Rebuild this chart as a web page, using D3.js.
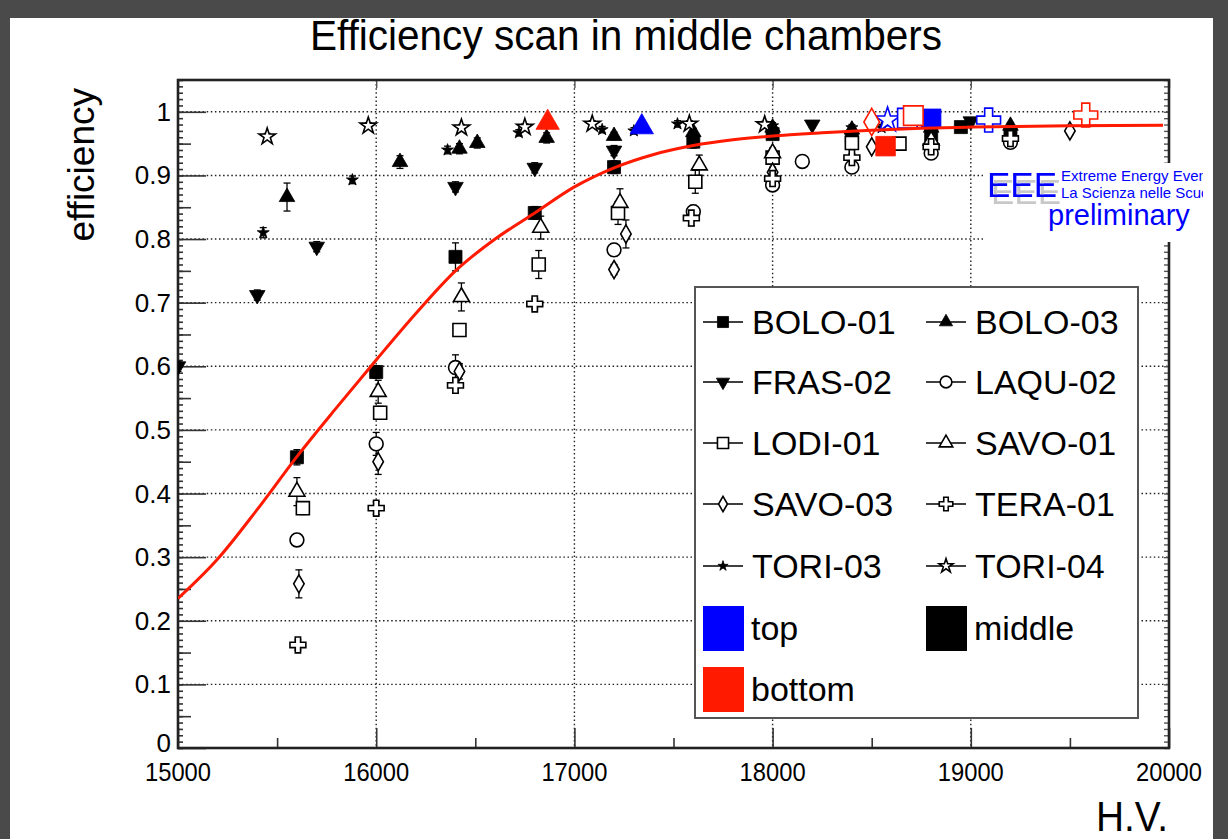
<!DOCTYPE html>
<html>
<head>
<meta charset="utf-8">
<script src="https://cdn.jsdelivr.net/npm/d3@7"></script>
<style>
  html, body { margin: 0; padding: 0; background: #fff; }
  svg { display: block; font-family: "Liberation Sans", Arial, Helvetica, sans-serif; }
</style>
</head>
<body>
<svg id="chart" width="1228" height="839"></svg>
<script>
// ---- axis ranges and ticks ----
const hvRange = [15000, 20000];
const effRange = [0, 1.05];
const hvMajorTicks = [15000, 16000, 17000, 18000, 19000, 20000];
const effMajorTicks = [0, 0.1, 0.2, 0.3, 0.4, 0.5, 0.6, 0.7, 0.8, 0.9, 1];
const effTickLabels = ["0", "0.1", "0.2", "0.3", "0.4", "0.5", "0.6", "0.7", "0.8", "0.9", "1"];

// ---- middle-chamber efficiency per station (HV in volts) ----
const bolo01HV  = [15600, 16000, 16400, 16800, 17200, 17600, 18000, 18400, 18800, 18950, 19200];
const bolo01Eff = [0.457, 0.591, 0.772, 0.841, 0.913, 0.953, 0.965, 0.960, 0.964, 0.976, 0.966];
const bolo01Err = [0.012, 0.010, 0.022, 0.010, 0.010, 0.010, 0.005, 0.005, 0.005, 0.005, 0.005];

const bolo03HV  = [15550, 16120, 16420, 16510, 16860, 17200, 17600, 18000, 18400, 18800, 19200];
const bolo03Eff = [0.866, 0.921, 0.942, 0.951, 0.959, 0.962, 0.968, 0.975, 0.972, 0.975, 0.978];
const bolo03Err = [0.022, 0.010, 0.008, 0.008, 0.008, 0.006, 0.006, 0.005, 0.005, 0.005, 0.005];

const fras02HV  = [15000, 15400, 15700, 16400, 16800, 17200, 18200, 19000];
const fras02Eff = [0.600, 0.712, 0.788, 0.882, 0.912, 0.939, 0.980, 0.985];
const fras02Err = [0.008, 0.008, 0.008, 0.008, 0.008, 0.008, 0.005, 0.005];

const laqu02HV  = [15600, 16000, 16400, 17200, 17600, 18000, 18150, 18400, 18800, 19200];
const laqu02Eff = [0.327, 0.478, 0.598, 0.783, 0.843, 0.885, 0.922, 0.913, 0.935, 0.952];
const laqu02Err = [0.010, 0.018, 0.020, 0.010, 0.010, 0.008, 0.006, 0.006, 0.006, 0.006];

const lodi01HV  = [15630, 16020, 16420, 16820, 17220, 17610, 18000, 18400, 18640];
const lodi01Eff = [0.377, 0.527, 0.657, 0.760, 0.841, 0.890, 0.928, 0.951, 0.950];
const lodi01Err = [0.010, 0.010, 0.010, 0.022, 0.018, 0.018, 0.008, 0.006, 0.006];

const savo01HV  = [15600, 16010, 16430, 16830, 17230, 17630, 18000, 18800];
const savo01Eff = [0.403, 0.560, 0.709, 0.818, 0.857, 0.916, 0.935, 0.955];
const savo01Err = [0.022, 0.018, 0.022, 0.018, 0.022, 0.016, 0.008, 0.006];

const savo03HV  = [15610, 16010, 16420, 17200, 17260, 18000, 18500, 19500];
const savo03Eff = [0.258, 0.450, 0.592, 0.752, 0.808, 0.905, 0.945, 0.970];
const savo03Err = [0.022, 0.020, 0.012, 0.008, 0.022, 0.008, 0.006, 0.006];

const tera01HV  = [15605, 16000, 16400, 16800, 17590, 18000, 18400, 18800, 19200];
const tera01Eff = [0.162, 0.377, 0.570, 0.698, 0.833, 0.895, 0.928, 0.945, 0.958];
const tera01Err = [0.008, 0.010, 0.012, 0.008, 0.012, 0.008, 0.006, 0.006, 0.006];

const tori03HV  = [15430, 15880, 16360, 16720, 17140, 17300, 17520, 18000, 18400, 18550];
const tori03Eff = [0.810, 0.893, 0.940, 0.967, 0.972, 0.970, 0.981, 0.978, 0.975, 0.975];
const tori03Err = [0.008, 0.006, 0.006, 0.005, 0.005, 0.005, 0.005, 0.005, 0.005, 0.005];

const tori04HV  = [15450, 15960, 16430, 16750, 17090, 17580, 17960];
const tori04Eff = [0.961, 0.978, 0.975, 0.976, 0.981, 0.981, 0.980];
const tori04Err = [0.005, 0.005, 0.005, 0.005, 0.005, 0.005, 0.005];

// ---- top and bottom chamber points (station id per point) ----
const topStation    = ["BOLO-03", "TORI-04", "LODI-01", "BOLO-01", "TERA-01"];
const topHV         = [17340, 18580, 18680, 18800, 19090];
const topEff        = [0.976, 0.987, 0.990, 0.989, 0.987];

const bottomStation = ["BOLO-03", "SAVO-03", "BOLO-01", "LODI-01", "TERA-01"];
const bottomHV      = [16865, 18500, 18570, 18710, 19580];
const bottomEff     = [0.983, 0.984, 0.946, 0.994, 0.995];

// ---- fitted efficiency curve, sampled along HV ----
const fitHV  = [15000, 15200, 15400, 15600, 15800, 16000, 16200, 16400, 16600, 16800, 17000,
                17200, 17400, 17600, 17800, 18000, 18250, 18500, 18750, 19000, 19500, 19970];
const fitEff = [0.235, 0.297, 0.375, 0.458, 0.535, 0.610, 0.683, 0.750, 0.800, 0.841, 0.882,
                0.912, 0.933, 0.947, 0.956, 0.962, 0.967, 0.971, 0.974, 0.976, 0.978, 0.979];

// ---- station table built from the arrays above ----
const stations = [
  { name: "BOLO-01", hv: bolo01HV, eff: bolo01Eff, err: bolo01Err },
  { name: "BOLO-03", hv: bolo03HV, eff: bolo03Eff, err: bolo03Err },
  { name: "FRAS-02", hv: fras02HV, eff: fras02Eff, err: fras02Err },
  { name: "LAQU-02", hv: laqu02HV, eff: laqu02Eff, err: laqu02Err },
  { name: "LODI-01", hv: lodi01HV, eff: lodi01Eff, err: lodi01Err },
  { name: "SAVO-01", hv: savo01HV, eff: savo01Eff, err: savo01Err },
  { name: "SAVO-03", hv: savo03HV, eff: savo03Eff, err: savo03Err },
  { name: "TERA-01", hv: tera01HV, eff: tera01Eff, err: tera01Err },
  { name: "TORI-03", hv: tori03HV, eff: tori03Eff, err: tori03Err },
  { name: "TORI-04", hv: tori04HV, eff: tori04Eff, err: tori04Err }
];

// marker style per station: shape, filled or hollow, symbol area
const markerStyle = {
  "BOLO-01": { type: d3.symbolSquare,   filled: true,  size: 170, rot: 0 },
  "BOLO-03": { type: d3.symbolTriangle, filled: true,  size: 105, rot: 0 },
  "FRAS-02": { type: d3.symbolTriangle, filled: true,  size: 105, rot: 180 },
  "LAQU-02": { type: d3.symbolCircle,   filled: false, size: 150, rot: 0 },
  "LODI-01": { type: d3.symbolSquare,   filled: false, size: 170, rot: 0 },
  "SAVO-01": { type: d3.symbolTriangle, filled: false, size: 110, rot: 0 },
  "SAVO-03": { type: d3.symbolDiamond,  filled: false, size: 95,  rot: 0 },
  "TERA-01": { type: d3.symbolCross,    filled: false, size: 140, rot: 0 },
  "TORI-03": { type: d3.symbolStar,     filled: true,  size: 45,  rot: 0 },
  "TORI-04": { type: d3.symbolStar,     filled: false, size: 85,  rot: 0 }
};

const W = 1228, H = 839;
const frame = { left: 178, right: 1169, top: 80, bottom: 748 };
const svg = d3.select("#chart");
const defs = svg.append("defs");

// screen border around the canvas
svg.append("rect").attr("width", W).attr("height", H).attr("fill", "#4a4a4a");
svg.append("rect").attr("x", 10).attr("y", 18).attr("width", 1203).attr("height", H - 18).attr("fill", "#ffffff");

const x = d3.scaleLinear().domain(hvRange).range([frame.left, frame.right]);
const y = d3.scaleLinear().domain(effRange).range([frame.bottom, frame.top]);

defs.append("clipPath").attr("id", "plotClip")
  .append("rect").attr("x", frame.left).attr("y", frame.top)
  .attr("width", frame.right - frame.left).attr("height", frame.bottom - frame.top);

// title
svg.append("text")
  .attr("x", 626).attr("y", 50)
  .attr("text-anchor", "middle")
  .attr("font-size", 42)
  .attr("textLength", 632).attr("lengthAdjust", "spacingAndGlyphs")
  .attr("fill", "#000")
  .text("Efficiency scan in middle chambers");

// dotted grid
const grid = svg.append("g").attr("stroke", "#222").attr("stroke-width", 1.4)
  .attr("stroke-dasharray", "1.5,2.6");
grid.selectAll("line.gx").data(hvMajorTicks.filter(v => v > hvRange[0] && v < hvRange[1]))
  .join("line").attr("class", "gx")
  .attr("x1", d => x(d)).attr("x2", d => x(d))
  .attr("y1", frame.top).attr("y2", frame.bottom);
grid.selectAll("line.gy").data(effMajorTicks.filter(v => v > 0))
  .join("line").attr("class", "gy")
  .attr("x1", frame.left).attr("x2", frame.right)
  .attr("y1", d => y(d)).attr("y2", d => y(d));

// axes with ticks pointing into the frame
const yMajor = d3.axisRight(y).tickValues(effMajorTicks).tickSize(28).tickFormat("");
const yMinor = d3.axisRight(y).tickValues(d3.range(0.05, 1.05, 0.1)).tickSize(13).tickFormat("");
const yFine  = d3.axisRight(y).tickValues(d3.range(0, 1.051, 0.01)).tickSize(5).tickFormat("");
[yMajor, yMinor, yFine].forEach(ax => {
  svg.append("g").attr("transform", `translate(${frame.left},0)`).call(ax)
    .call(g => g.select(".domain").remove())
    .call(g => g.selectAll("line").attr("stroke", "#333").attr("stroke-width", 1.6));
});
svg.append("g").attr("transform", `translate(${frame.right},0)`)
  .call(d3.axisLeft(y).tickValues(d3.range(0, 1.051, 0.01)).tickSize(5).tickFormat(""))
  .call(g => g.select(".domain").remove())
  .call(g => g.selectAll("line").attr("stroke", "#555").attr("stroke-width", 1.4));

const xMajor = d3.axisTop(x).tickValues(hvMajorTicks).tickSize(20).tickFormat("");
const xMinor = d3.axisTop(x).tickValues(d3.range(15500, 20000, 1000)).tickSize(10).tickFormat("");
[xMajor, xMinor].forEach(ax => {
  svg.append("g").attr("transform", `translate(0,${frame.bottom})`).call(ax)
    .call(g => g.select(".domain").remove())
    .call(g => g.selectAll("line").attr("stroke", "#333").attr("stroke-width", 1.6));
});
svg.append("g").attr("transform", `translate(0,${frame.top})`)
  .call(d3.axisBottom(x).tickValues(hvMajorTicks).tickSize(8).tickFormat(""))
  .call(g => g.select(".domain").remove())
  .call(g => g.selectAll("line").attr("stroke", "#555").attr("stroke-width", 1.4));

// frame
svg.append("rect")
  .attr("x", frame.left).attr("y", frame.top)
  .attr("width", frame.right - frame.left).attr("height", frame.bottom - frame.top)
  .attr("fill", "none").attr("stroke", "#222").attr("stroke-width", 2.6);

// tick labels (the zero label sits a little higher so it clears the first HV label)
svg.append("g").selectAll("text").data(effMajorTicks).join("text")
  .attr("x", frame.left - 7).attr("y", d => y(d) + (d === 0 ? 4 : 9))
  .attr("text-anchor", "end").attr("font-size", 26).attr("fill", "#000")
  .text((d, i) => effTickLabels[i]);
svg.append("g").selectAll("text").data(hvMajorTicks).join("text")
  .attr("x", d => x(d)).attr("y", frame.bottom + 33)
  .attr("text-anchor", "middle").attr("font-size", 26).attr("fill", "#000")
  .attr("textLength", 66).attr("lengthAdjust", "spacingAndGlyphs")
  .text(d => d);

// axis titles
svg.append("text")
  .attr("transform", "translate(94,88) rotate(-90)")
  .attr("text-anchor", "end").attr("font-size", 37).attr("fill", "#000")
  .text("efficiency");
svg.append("text")
  .attr("x", 1168).attr("y", 831)
  .attr("text-anchor", "end").attr("font-size", 42).attr("fill", "#000")
  .attr("textLength", 72).attr("lengthAdjust", "spacingAndGlyphs")
  .text("H.V.");

// ---- markers ----
const plotLayer = svg.append("g").attr("clip-path", "url(#plotClip)");

function symbolPath(name, scale) {
  const s = markerStyle[name];
  return d3.symbol().type(s.type).size(s.size * scale * scale)();
}
function drawMarker(g, name, cx, cy, color, scale) {
  const s = markerStyle[name];
  g.append("path")
    .attr("d", symbolPath(name, scale))
    .attr("transform", `translate(${cx},${cy}) rotate(${s.rot})`)
    .attr("fill", s.filled ? color : "#fff")
    .attr("stroke", color)
    .attr("stroke-width", s.filled ? 0.8 : 1.6);
}

// error bars under the markers
const errLayer = plotLayer.append("g").attr("stroke", "#000").attr("stroke-width", 1.3);
stations.forEach(st => {
  st.hv.forEach((hv, i) => {
    const cx = x(hv), lo = y(st.eff[i] - st.err[i]), hi = y(st.eff[i] + st.err[i]);
    errLayer.append("line").attr("x1", cx).attr("x2", cx).attr("y1", lo).attr("y2", hi);
    errLayer.append("line").attr("x1", cx - 3.5).attr("x2", cx + 3.5).attr("y1", hi).attr("y2", hi);
    errLayer.append("line").attr("x1", cx - 3.5).attr("x2", cx + 3.5).attr("y1", lo).attr("y2", lo);
  });
});

const markLayer = plotLayer.append("g");
stations.forEach(st => {
  st.hv.forEach((hv, i) => drawMarker(markLayer, st.name, x(hv), y(st.eff[i]), "#000", 1));
});

// fitted curve
plotLayer.append("path")
  .datum(fitHV.map((hv, i) => [hv, fitEff[i]]))
  .attr("d", d3.line().x(d => x(d[0])).y(d => y(d[1])).curve(d3.curveMonotoneX))
  .attr("fill", "none").attr("stroke", "#ff1a00").attr("stroke-width", 3);

// top (blue) and bottom (red) chambers, drawn larger
topHV.forEach((hv, i) => drawMarker(markLayer, topStation[i], x(hv), y(topEff[i]), "#0000ff", 1.5));
bottomHV.forEach((hv, i) => drawMarker(markLayer, bottomStation[i], x(hv), y(bottomEff[i]), "#ff1a00", 1.5));

// ---- EEE label (grey drop shadow behind the big letters) ----
const shadow = defs.append("filter").attr("id", "logoShadow")
  .attr("x", "-10%").attr("y", "-10%").attr("width", "130%").attr("height", "140%");
shadow.append("feDropShadow").attr("dx", 4).attr("dy", 7).attr("stdDeviation", 0.4)
  .attr("flood-color", "#c8c8c8").attr("flood-opacity", 1);

svg.append("rect").attr("x", 983).attr("y", 163).attr("width", 220).attr("height", 79).attr("fill", "#fff");
defs.append("clipPath").attr("id", "logoClip")
  .append("rect").attr("x", 983).attr("y", 150).attr("width", 220).attr("height", 100);
const logo = svg.append("g").attr("clip-path", "url(#logoClip)");
logo.append("text").attr("x", 987).attr("y", 197).attr("font-size", 35).attr("fill", "#0000ff")
  .attr("filter", "url(#logoShadow)").text("EEE");
logo.append("text").attr("x", 1061).attr("y", 181).attr("font-size", 15).attr("fill", "#0000ff").text("Extreme Energy Events");
logo.append("text").attr("x", 1061).attr("y", 198).attr("font-size", 15).attr("fill", "#0000ff").text("La Scienza nelle Scuole");
logo.append("text").attr("x", 1048).attr("y", 225).attr("font-size", 29).attr("fill", "#0000ff").text("preliminary");

// ---- legend ----
const legend = svg.append("g");
legend.append("rect").attr("x", 695).attr("y", 287).attr("width", 443).attr("height", 431)
  .attr("fill", "#fff").attr("stroke", "#555").attr("stroke-width", 2);
const colX = [723, 946];
const rowY = [322, 382, 443, 504, 566, 628, 689];
stations.forEach((st, i) => {
  const cx = colX[i % 2], cy = rowY[Math.floor(i / 2)];
  legend.append("line").attr("x1", cx - 20).attr("x2", cx + 20).attr("y1", cy).attr("y2", cy)
    .attr("stroke", "#000").attr("stroke-width", 1.5);
  drawMarker(legend, st.name, cx, cy, "#000", 0.85);
  legend.append("text").attr("x", cx + 29).attr("y", cy + 12)
    .attr("font-size", 34).attr("fill", "#000").text(st.name);
});
const chamberNames = ["top", "middle", "bottom"];
const chamberColors = ["#0000ff", "#000000", "#ff1a00"];
chamberNames.forEach((nm, i) => {
  const cx = colX[i % 2], cy = rowY[5 + Math.floor(i / 2)];
  legend.append("rect").attr("x", cx - 20).attr("y", cy - 22).attr("width", 41).attr("height", 45)
    .attr("fill", chamberColors[i]);
  legend.append("text").attr("x", cx + 28).attr("y", cy + 12)
    .attr("font-size", 34).attr("fill", "#000").text(nm);
});
</script>
</body>
</html>
